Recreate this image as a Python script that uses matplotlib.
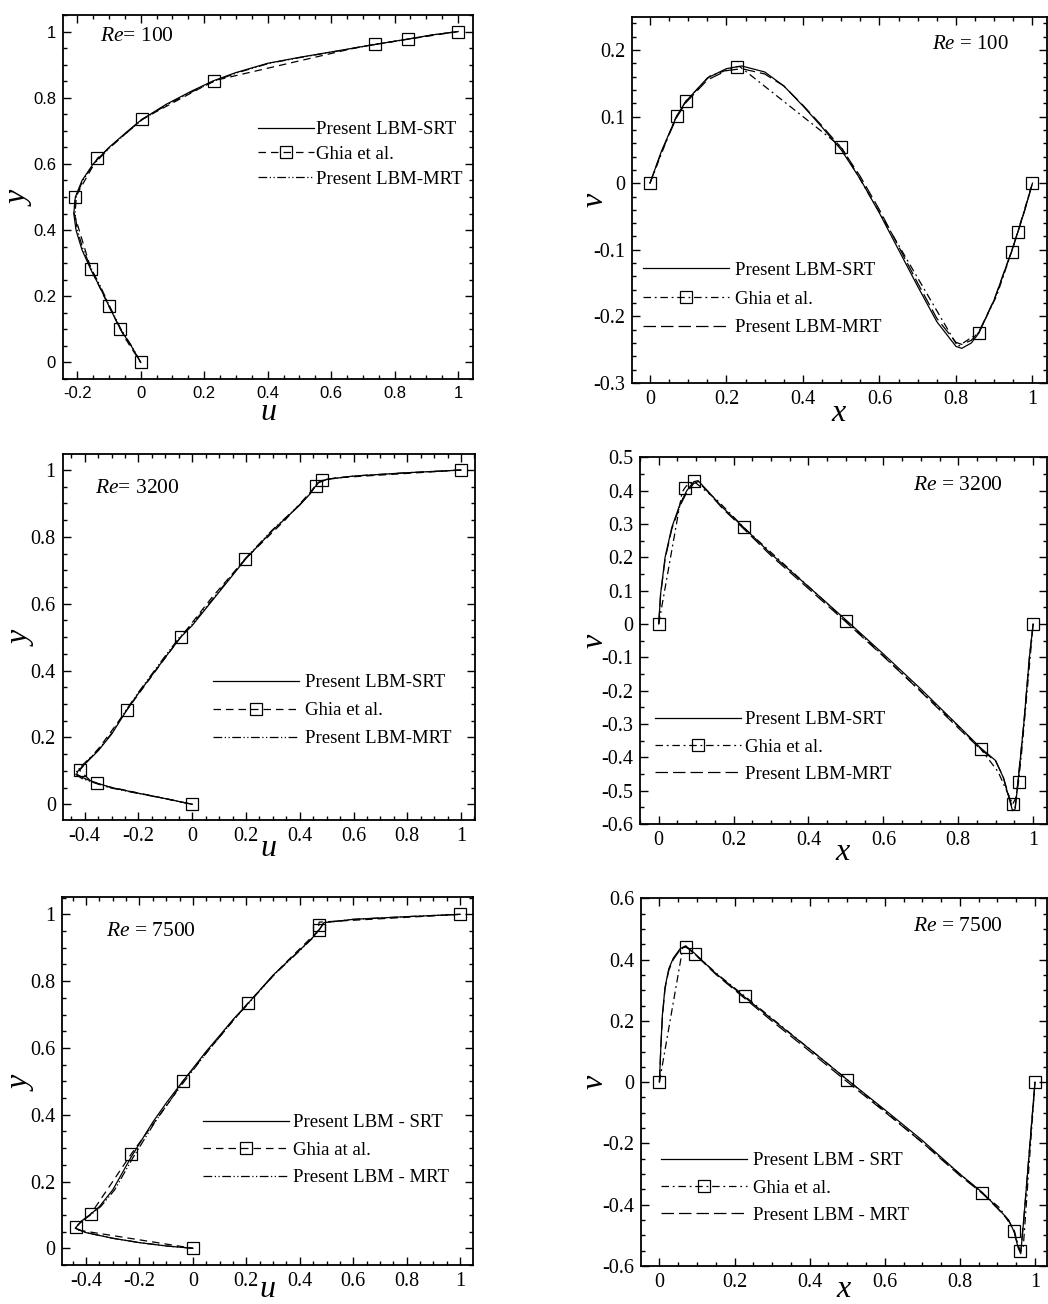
import numpy as np
import matplotlib
matplotlib.use('Agg')
import matplotlib.pyplot as plt
from matplotlib.lines import Line2D
from matplotlib.ticker import MultipleLocator, FormatStrFormatter

plt.rcParams['font.family'] = 'Liberation Serif'
plt.rcParams['mathtext.fontset'] = 'custom'
plt.rcParams['mathtext.rm'] = 'Liberation Serif'
plt.rcParams['mathtext.it'] = 'Liberation Serif:italic'
plt.rcParams['axes.unicode_minus'] = False

# ---- Ghia et al. reference data ----
ghia_y = [1, 0.9766, 0.9688, 0.9609, 0.9531, 0.8516, 0.7344, 0.6172, 0.5, 0.4531,
          0.2813, 0.1719, 0.1016, 0.0703, 0.0625, 0.0547, 0]
ghia_u100 = [1, 0.84123, 0.78871, 0.73722, 0.68717, 0.23151, 0.00332, -0.13641, -0.20581,
             -0.2109, -0.15662, -0.1015, -0.06434, -0.04775, -0.04192, -0.03717, 0]
ghia_u3200 = [1, 0.53236, 0.48296, 0.46547, 0.46101, 0.34682, 0.19791, 0.07156, -0.04272,
              -0.086636, -0.24427, -0.34323, -0.41933, -0.37827, -0.35344, -0.32407, 0]
ghia_u7500 = [1, 0.47244, 0.47048, 0.47323, 0.47167, 0.34228, 0.20591, 0.08342, -0.038,
              -0.07503, -0.23176, -0.32393, -0.38324, -0.43025, -0.4359, -0.43154, 0]
mark_u100 = [0, 1, 3, 5, 6, 7, 8, 10, 11, 12, 16]
mark_u_hi = [0, 2, 4, 6, 8, 10, 12, 14, 16]

ghia_x = [0, 0.0625, 0.0703, 0.0781, 0.0938, 0.1563, 0.2266, 0.2344, 0.5, 0.8047,
          0.8594, 0.9063, 0.9453, 0.9531, 0.9609, 0.9688, 1]
ghia_v100 = [0, 0.09233, 0.10091, 0.1089, 0.12317, 0.16077, 0.17507, 0.17527, 0.05454,
             -0.24533, -0.22445, -0.16914, -0.10313, -0.08864, -0.07391, -0.05906, 0]
ghia_v3200 = [0, 0.3956, 0.40917, 0.41906, 0.42768, 0.37119, 0.2903, 0.28188, 0.00999,
              -0.31184, -0.37401, -0.44307, -0.54053, -0.52357, -0.47425, -0.39017, 0]
ghia_v7500 = [0, 0.43979, 0.4403, 0.43564, 0.41824, 0.3506, 0.28117, 0.27348, 0.00824,
              -0.30448, -0.36213, -0.4105, -0.4859, -0.52347, -0.55216, -0.53858, 0]
mark_v = [0, 2, 4, 6, 8, 10, 12, 14, 16]

# ---- present LBM results ----
y100 = [0, 0.05, 0.10, 0.17, 0.23, 0.28, 0.34, 0.40, 0.45, 0.50, 0.55, 0.60, 0.65, 0.70,
        0.734, 0.78, 0.82, 0.852, 0.876, 0.904, 0.922, 0.94, 0.961, 0.977, 0.99, 1.0]
srt_u100 = [0, -0.03, -0.064, -0.10, -0.13, -0.157, -0.185, -0.204, -0.211, -0.206, -0.185,
            -0.15, -0.10, -0.04, 0.003, 0.08, 0.16, 0.231, 0.30, 0.40, 0.50, 0.61, 0.737,
            0.84, 0.92, 1.0]
mrt_u100 = [0, -0.029, -0.062, -0.098, -0.127, -0.154, -0.181, -0.200, -0.207, -0.203, -0.183,
            -0.147, -0.097, -0.037, 0.005, 0.085, 0.166, 0.237, 0.306, 0.405, 0.505, 0.615,
            0.74, 0.842, 0.92, 1.0]

x100 = [0, 0.03, 0.07, 0.094, 0.15, 0.2, 0.24, 0.3, 0.35, 0.4, 0.45, 0.5, 0.55, 0.6, 0.65,
        0.7, 0.75, 0.8, 0.815, 0.84, 0.86, 0.9, 0.945, 0.961, 0.98, 1]
srt_v100 = [0, 0.048, 0.101, 0.123, 0.158, 0.172, 0.176, 0.167, 0.146, 0.116, 0.084, 0.050,
            0.006, -0.045, -0.10, -0.155, -0.208, -0.245, -0.248, -0.24, -0.225, -0.175,
            -0.103, -0.075, -0.04, 0]
mrt_v100 = [0, 0.047, 0.099, 0.121, 0.155, 0.169, 0.172, 0.164, 0.146, 0.117, 0.086, 0.053,
            0.010, -0.04, -0.095, -0.15, -0.203, -0.239, -0.242, -0.236, -0.223, -0.175,
            -0.103, -0.075, -0.04, 0]

y3200 = [0, 0.017, 0.033, 0.05, 0.063, 0.077, 0.09, 0.10, 0.12, 0.16, 0.21, 0.281, 0.332,
         0.44, 0.5, 0.535, 0.635, 0.735, 0.82, 0.895, 0.93, 0.948, 0.962, 0.972, 0.982,
         0.992, 1.0]
srt_u3200 = [0, -0.1, -0.2, -0.3, -0.353, -0.4, -0.43, -0.425, -0.40, -0.35, -0.3, -0.244,
             -0.2, -0.1, -0.043, 0.0, 0.1, 0.2, 0.3, 0.4, 0.44, 0.455, 0.47, 0.5, 0.6, 0.8, 1.0]
mrt_u3200 = [0, -0.1, -0.205, -0.31, -0.36, -0.41, -0.435, -0.428, -0.405, -0.353, -0.302,
             -0.247, -0.203, -0.104, -0.047, -0.004, 0.097, 0.197, 0.297, 0.398, 0.438,
             0.453, 0.468, 0.5, 0.6, 0.8, 1.0]

x3200 = [0, 0.005, 0.017, 0.035, 0.057, 0.075, 0.094, 0.105, 0.13, 0.17, 0.2266, 0.3, 0.4,
         0.5, 0.6, 0.7, 0.8, 0.86, 0.9, 0.92, 0.935, 0.945, 0.952, 0.96, 0.975, 0.99, 1]
srt_v3200 = [0, 0.09, 0.2, 0.29, 0.36, 0.40, 0.427, 0.43, 0.40, 0.35, 0.29, 0.21, 0.112,
             0.012, -0.09, -0.195, -0.305, -0.372, -0.41, -0.46, -0.52, -0.56, -0.555,
             -0.47, -0.3, -0.1, 0]
mrt_v3200 = [0, 0.088, 0.195, 0.285, 0.355, 0.395, 0.422, 0.427, 0.398, 0.347, 0.286, 0.205,
             0.106, 0.006, -0.097, -0.203, -0.312, -0.376, -0.412, -0.458, -0.515, -0.553,
             -0.55, -0.465, -0.3, -0.1, 0]

y7500 = [0, 0.007, 0.017, 0.03, 0.047, 0.06, 0.08, 0.102, 0.125, 0.175, 0.272, 0.378, 0.435,
         0.5, 0.59, 0.637, 0.685, 0.733, 0.818, 0.893, 0.932, 0.957, 0.975, 0.985, 0.993, 1.0]
srt_u7500 = [0, -0.1, -0.2, -0.3, -0.4, -0.44, -0.42, -0.383, -0.35, -0.3, -0.232, -0.15,
             -0.1, -0.038, 0.05, 0.1, 0.15, 0.206, 0.3, 0.4, 0.45, 0.475, 0.49, 0.6, 0.8, 1.0]
mrt_u7500 = [0, -0.1, -0.2, -0.3, -0.4, -0.44, -0.418, -0.38, -0.345, -0.293, -0.224, -0.142,
             -0.093, -0.032, 0.055, 0.104, 0.153, 0.208, 0.302, 0.402, 0.452, 0.476, 0.49,
             0.6, 0.8, 1.0]

x7500 = [0, 0.004, 0.008, 0.015, 0.025, 0.037, 0.055, 0.07, 0.094, 0.15, 0.2266, 0.3, 0.4,
         0.5, 0.6, 0.7, 0.8, 0.86, 0.9, 0.93, 0.945, 0.955, 0.962, 0.97, 0.98, 0.99, 1]
srt_v7500 = [0, 0.12, 0.22, 0.31, 0.37, 0.405, 0.435, 0.445, 0.42, 0.355, 0.278, 0.205,
             0.108, 0.008, -0.09, -0.19, -0.30, -0.36, -0.41, -0.45, -0.49, -0.54, -0.56,
             -0.45, -0.3, -0.15, 0]
mrt_v7500 = [0, 0.118, 0.215, 0.305, 0.365, 0.40, 0.432, 0.443, 0.418, 0.352, 0.274, 0.199,
             0.101, 0.001, -0.097, -0.197, -0.305, -0.363, -0.412, -0.452, -0.49, -0.537,
             -0.555, -0.45, -0.3, -0.15, 0]

# legend labels
lab_a = ['Present LBM-SRT', 'Ghia et al.', 'Present LBM-MRT']
lab_b = ['Present LBM - SRT', 'Ghia at al.', 'Present LBM - MRT']
lab_c = ['Present LBM - SRT', 'Ghia et al.', 'Present LBM - MRT']

fig = plt.figure(figsize=(10.48, 13.04), dpi=100)

LS_GHIA_L = (0, (6, 4))
LS_MRT_L = (0, (7, 2, 1, 2, 1, 2))
LS_GHIA_R = (0, (6, 3, 1.5, 3))
LS_MRT_R = (0, (10, 4))
LW = 0.9


def setup(ax, xlim, ylim, xmaj, ymaj, xmin, ymin, sans=False):
    ax.set_xlim(*xlim)
    ax.set_ylim(*ylim)
    ax.xaxis.set_major_locator(MultipleLocator(xmaj))
    ax.yaxis.set_major_locator(MultipleLocator(ymaj))
    ax.xaxis.set_minor_locator(MultipleLocator(xmin))
    ax.yaxis.set_minor_locator(MultipleLocator(ymin))
    ax.xaxis.set_major_formatter(FormatStrFormatter('%g'))
    ax.yaxis.set_major_formatter(FormatStrFormatter('%g'))
    ax.tick_params(which='both', direction='in', top=True, right=True, width=1.0)
    ax.tick_params(which='major', length=6, labelsize=12 if sans else 14.5, pad=5)
    ax.tick_params(which='minor', length=3)
    for s in ax.spines.values():
        s.set_linewidth(1.3)
    if sans:
        for t in ax.get_xticklabels() + ax.get_yticklabels():
            t.set_family('Liberation Sans')


def draw(ax, xs, ys_srt, ys_mrt, gx, gy, marks, ls_g, ls_m, swap):
    gx = np.array(gx)
    gy = np.array(gy)
    if swap:
        ax.plot(ys_srt, xs, color='k', lw=LW)
        ax.plot(ys_mrt, xs, color='k', lw=LW, ls=ls_m)
        ax.plot(gy, gx, color='k', lw=LW, ls=ls_g)
        ax.plot(gy[marks], gx[marks], ls='none', marker='s', ms=8.5, mfc='none',
                mec='k', mew=0.9)
    else:
        ax.plot(xs, ys_srt, color='k', lw=LW)
        ax.plot(xs, ys_mrt, color='k', lw=LW, ls=ls_m)
        ax.plot(gx, gy, color='k', lw=LW, ls=ls_g)
        ax.plot(gx[marks], gy[marks], ls='none', marker='s', ms=8.5, mfc='none',
                mec='k', mew=0.9)


def legend(ax, labels, ls_g, ls_m, pos, hlen, pad, spacing):
    h = [Line2D([], [], color='k', lw=LW),
         Line2D([], [], color='k', lw=LW, ls=ls_g, marker='s', ms=8.5, mfc='none',
                mec='k', mew=0.9),
         Line2D([], [], color='k', lw=LW, ls=ls_m)]
    ax.legend(h, labels, loc='upper left', bbox_to_anchor=pos, frameon=False,
              handlelength=hlen, handletextpad=pad, labelspacing=spacing,
              borderpad=0, borderaxespad=0, fontsize=13.5, numpoints=1)


def labels(ax, xl, yl, xpos, ypos):
    ax.set_xlabel(xl, fontsize=23, va='center', ha='center')
    ax.set_ylabel(yl, fontsize=23, va='center', ha='center')
    ax.xaxis.set_label_coords(0.5, xpos)
    ax.yaxis.set_label_coords(ypos, 0.5)


W, H = 1048, 1304


def box(l, r, t, b):
    return [l / W, 1 - b / H, (r - l) / W, (b - t) / H]


# --- Re = 100, u ---
ax = fig.add_axes(box(63, 473, 15, 379))
draw(ax, y100, srt_u100, mrt_u100, ghia_y, ghia_u100, mark_u100, LS_GHIA_L, LS_MRT_L, True)
setup(ax, (-0.245, 1.047), (-0.05, 1.05), 0.2, 0.2, 0.05, 0.05, sans=True)
legend(ax, lab_a, LS_GHIA_L, LS_MRT_L, (0.476, 0.708), 3.0, 0.1, 0.4)
labels(ax, '$u$', '$y$', -0.093, -0.105)
ax.text(0.09, 0.94, r'$\mathit{Re}$= 100', transform=ax.transAxes, fontsize=15.5, va='center')

# --- Re = 100, v ---
ax = fig.add_axes(box(632, 1047, 16.7, 383))
draw(ax, x100, srt_v100, mrt_v100, ghia_x, ghia_v100, mark_v, LS_GHIA_R, LS_MRT_R, False)
setup(ax, (-0.047, 1.038), (-0.3, 0.25), 0.2, 0.1, 0.05, 0.02)
legend(ax, lab_a, LS_GHIA_R, LS_MRT_R, (0.027, 0.331), 4.6, 0.3, 0.62)
labels(ax, '$x$', '$v$', -0.082, -0.089)
ax.text(0.722, 0.923, r'$\mathit{Re}$ = 100', transform=ax.transAxes, fontsize=15, va='center')

# --- Re = 3200, u ---
ax = fig.add_axes(box(62.7, 475, 454, 820))
draw(ax, y3200, srt_u3200, mrt_u3200, ghia_y, ghia_u3200, mark_u_hi, LS_GHIA_L, LS_MRT_L, True)
setup(ax, (-0.482, 1.052), (-0.047, 1.048), 0.2, 0.2, 0.05, 0.05)
legend(ax, lab_a, LS_GHIA_L, LS_MRT_L, (0.365, 0.398), 4.6, 0.3, 0.58)
labels(ax, '$u$', '$y$', -0.079, -0.099)
ax.text(0.078, 0.907, r'$\mathit{Re}$= 3200', transform=ax.transAxes, fontsize=15.5, va='center')

# --- Re = 3200, v ---
ax = fig.add_axes(box(640, 1047, 457.3, 824))
draw(ax, x3200, srt_v3200, mrt_v3200, ghia_x, ghia_v3200, mark_v, LS_GHIA_R, LS_MRT_R, False)
setup(ax, (-0.05, 1.037), (-0.6, 0.5), 0.2, 0.1, 0.05, 0.05)
legend(ax, lab_a, LS_GHIA_R, LS_MRT_R, (0.037, 0.308), 4.6, 0.2, 0.55)
labels(ax, '$x$', '$v$', -0.077, -0.11)
ax.text(0.671, 0.924, r'$\mathit{Re}$ = 3200', transform=ax.transAxes, fontsize=15.5, va='center')

# --- Re = 7500, u ---
ax = fig.add_axes(box(62, 472.7, 897.3, 1265))
draw(ax, y7500, srt_u7500, mrt_u7500, ghia_y, ghia_u7500, mark_u_hi, LS_GHIA_L, LS_MRT_L, True)
setup(ax, (-0.49, 1.047), (-0.05, 1.051), 0.2, 0.2, 0.05, 0.05)
legend(ax, lab_b, LS_GHIA_L, LS_MRT_L, (0.343, 0.41), 4.6, 0.2, 0.55)
labels(ax, '$u$', '$y$', -0.066, -0.098)
ax.text(0.107, 0.906, r'$\mathit{Re}$ = 7500', transform=ax.transAxes, fontsize=15.5, va='center')

# --- Re = 7500, v ---
ax = fig.add_axes(box(641, 1047, 898.3, 1266))
draw(ax, x7500, srt_v7500, mrt_v7500, ghia_x, ghia_v7500, mark_v, LS_GHIA_R, LS_MRT_R, False)
setup(ax, (-0.049, 1.032), (-0.6, 0.6), 0.2, 0.2, 0.05, 0.05)
legend(ax, lab_c, LS_GHIA_R, LS_MRT_R, (0.049, 0.31), 4.6, 0.3, 0.55)
labels(ax, '$x$', '$v$', -0.064, -0.113)
ax.text(0.671, 0.923, r'$\mathit{Re}$ = 7500', transform=ax.transAxes, fontsize=15.5, va='center')

fig.savefig('out.png', dpi=100)
